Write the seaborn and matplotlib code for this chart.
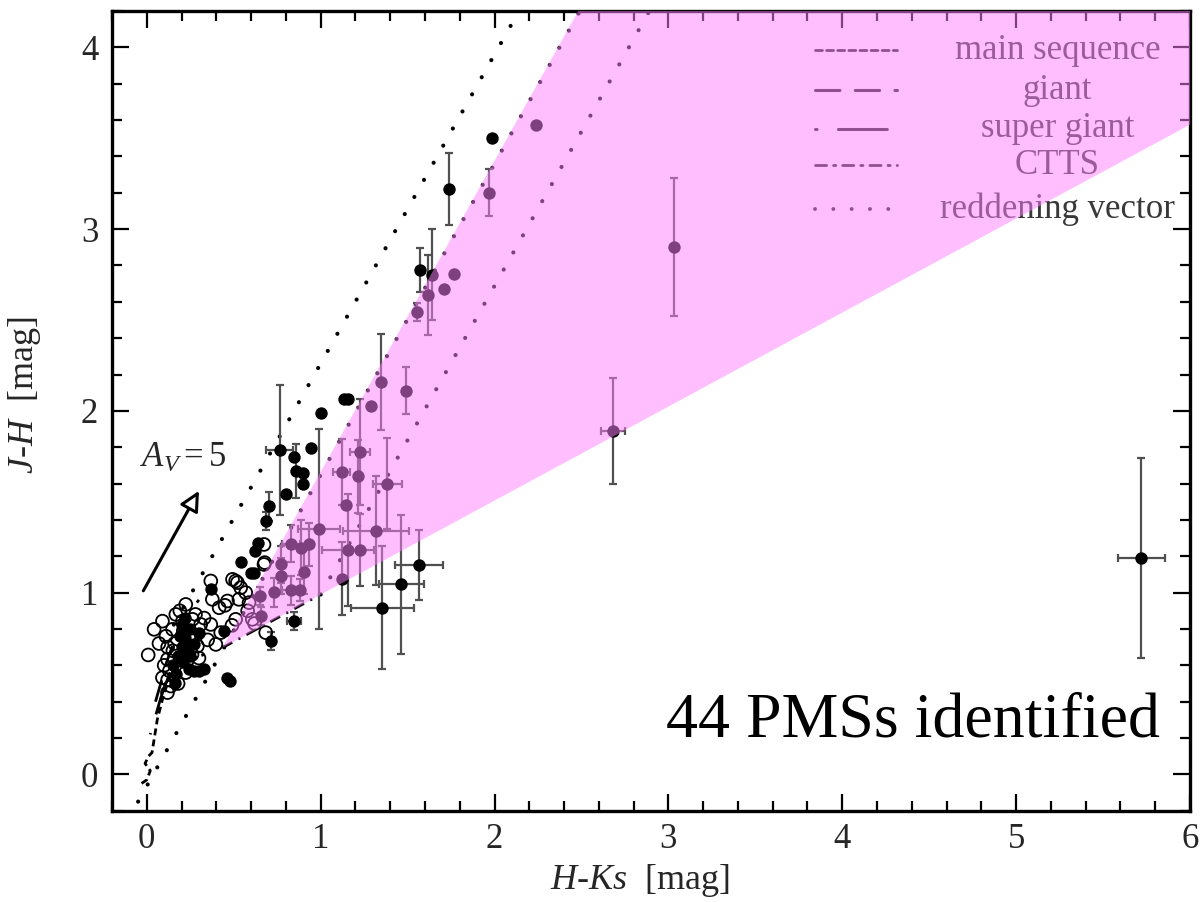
import numpy as np
import matplotlib
matplotlib.use("Agg")
import matplotlib.pyplot as plt
import seaborn as sns
from matplotlib.ticker import MultipleLocator

# ---------------- data ----------------
# loci (H-Ks, J-H)
ms_hk = [-0.03, 0.00, 0.02, -0.01, 0.01, 0.03, 0.06, 0.10, 0.14, 0.18, 0.22, 0.28, 0.33]
ms_jh = [-0.05, -0.03, 0.02, 0.06, 0.10, 0.12, 0.30, 0.45, 0.55, 0.60, 0.62, 0.64, 0.66]
giant_hk = [0.05, 0.08, 0.10, 0.13, 0.16, 0.20, 0.25, 0.30]
giant_jh = [0.40, 0.50, 0.58, 0.66, 0.74, 0.82, 0.90, 0.96]
sg_hk = [0.02, 0.05, 0.08, 0.11, 0.15]
sg_jh = [0.22, 0.32, 0.42, 0.50, 0.60]
ctts_hk = [0.435, 1.00]
ctts_jh = [0.697, 0.99]

# reddening vectors (start, end)
redd_a_hk = [0.10, 2.17]
redd_a_jh = [0.73, 4.25]
redd_b_hk = [-0.05, 2.52]
redd_b_jh = [-0.15, 4.25]
redd_c_hk = [1.00, 2.92]
redd_c_jh = [0.99, 4.25]

# CTTS-like region
region_hk = [0.435, 2.54, 6.3, 6.3]
region_jh = [0.697, 4.30, 4.30, 3.73]

# A_V = 5 arrow
av_hk = [-0.02, 0.30]
av_jh = [1.01, 1.56]

# sources with error bars
err_hk = [5.72, 3.03, 2.68, 1.97, 1.74, 1.57, 1.64, 1.62, 1.556, 1.345, 1.49, 1.226, 1.12,
          1.215, 1.383, 0.99, 1.32, 1.157, 1.226, 1.125, 1.565, 1.464, 1.354, 0.764, 0.856,
          0.703, 0.684, 0.713, 0.847, 0.83, 0.885, 0.933, 0.77, 0.904, 0.77, 0.651, 0.732,
          0.828, 0.881, 0.655]
err_jh = [1.19, 2.90, 1.89, 3.20, 3.22, 2.775, 2.75, 2.64, 2.544, 2.158, 2.11, 1.773, 1.663,
          1.64, 1.60, 1.35, 1.34, 1.234, 1.234, 1.077, 1.152, 1.045, 0.917, 1.785, 1.669,
          1.476, 1.394, 0.733, 0.843, 1.27, 1.247, 1.265, 1.155, 1.113, 1.09, 0.981, 1.003,
          1.014, 1.014, 0.871]
err_dhk = [0.135, 0.0, 0.07, 0.0, 0.0, 0.0, 0.0, 0.0, 0.0, 0.0, 0.0, 0.06, 0.05,
           0.0, 0.083, 0.12, 0.19, 0.15, 0.0, 0.0, 0.137, 0.13, 0.18, 0.077, 0.0,
           0.0, 0.0, 0.0, 0.04, 0.05, 0.0, 0.0, 0.0, 0.0, 0.0, 0.0, 0.0,
           0.05, 0.0, 0.0]
err_djh = [0.55, 0.38, 0.29, 0.13, 0.20, 0.12, 0.25, 0.22, 0.05, 0.265, 0.13, 0.29, 0.18,
           0.20, 0.25, 0.55, 0.30, 0.31, 0.20, 0.20, 0.19, 0.38, 0.34, 0.36, 0.15,
           0.08, 0.05, 0.05, 0.05, 0.10, 0.15, 0.12, 0.10, 0.12, 0.10, 0.05, 0.08,
           0.08, 0.06, 0.05]

# filled sources without error bars
dot_hk = [1.987, 2.24, 1.766, 1.709, 1.134, 1.16, 1.004, 0.943, 0.90, 0.90, 1.287, 0.847,
          0.799, 0.64, 0.62, 0.54, 0.60, 0.617, 0.368, 0.46, 0.48, 0.24, 0.27, 0.30, 0.33,
          0.445, 1.144, 0.20, 0.22, 0.25, 0.18, 0.23, 0.27, 0.20, 0.15, 0.17, 0.25, 0.30,
          0.22, 0.19, 0.24, 0.16, 0.21]
dot_jh = [3.503, 3.573, 2.751, 2.668, 2.067, 2.063, 1.99, 1.797, 1.66, 1.596, 2.026, 1.748,
          1.54, 1.271, 1.229, 1.168, 1.11, 1.11, 1.018, 0.53, 0.515, 0.58, 0.57, 0.57, 0.58,
          0.788, 1.48, 0.70, 0.75, 0.80, 0.65, 0.68, 0.72, 0.82, 0.60, 0.55, 0.65, 0.78,
          0.86, 0.76, 0.71, 0.50, 0.62]

# open circles
open_hk = [0.008, 0.042, 0.09, 0.167, 0.224, 0.205, 0.263, 0.31, 0.368, 0.148, 0.243, 0.291,
           0.397, 0.425, 0.511, 0.368, 0.377, 0.416, 0.464, 0.493, 0.521, 0.54, 0.569, 0.53,
           0.588, 0.678, 0.684, 0.09, 0.119, 0.138, 0.224, 0.119, 0.674, 0.674, 0.511, 0.607,
           0.13, 0.10, 0.12, 0.11, 0.16, 0.19, 0.21, 0.28, 0.33, 0.35, 0.26, 0.07, 0.15,
           0.23, 0.30, 0.45, 0.49, 0.58, 0.62, 0.18, 0.12]
open_jh = [0.657, 0.798, 0.843, 0.88, 0.935, 0.843, 0.853, 0.825, 0.825, 0.798, 0.761, 0.706,
           0.715, 0.78, 0.853, 1.064, 0.963, 0.917, 0.954, 1.073, 1.055, 1.027, 1.0, 0.963,
           0.945, 1.165, 0.78, 0.532, 0.633, 0.486, 0.56, 0.45, 1.265, 1.155, 1.064, 0.853,
           0.57, 0.60, 0.70, 0.76, 0.72, 0.90, 0.79, 0.88, 0.86, 0.74, 0.66, 0.72, 0.68,
           0.62, 0.64, 0.93, 0.82, 0.90, 0.83, 0.50, 0.52]

legend_labels = ["main sequence", "giant", "super giant", "CTTS", "reddening vector"]

# ---------------- style ----------------
sns.set_style("ticks")
plt.rcParams["font.family"] = ["Liberation Serif", "DejaVu Serif"]
plt.rcParams["mathtext.fontset"] = "custom"
plt.rcParams["mathtext.rm"] = "Liberation Serif"
plt.rcParams["mathtext.it"] = "Liberation Serif:italic"

fig = plt.figure(figsize=(12.02, 9.02), dpi=100)
ax = fig.add_axes([0.0932, 0.1012, 0.8968, 0.8866])

ls_ms = (0, (2.5, 1.5))
ls_giant = (0, (8, 5))
ls_sg = (0, (0.5, 7, 16, 7))
ls_ctts = (0, (4, 2.5, 0.8, 2.5))
ls_redd = (0, (0.01, 4.7))

# loci
sns.lineplot(x=ms_hk, y=ms_jh, sort=False, estimator=None, color="black", lw=2.0,
             linestyle=ls_ms, ax=ax, zorder=3)
sns.lineplot(x=giant_hk, y=giant_jh, sort=False, estimator=None, color="black", lw=2.0,
             linestyle=ls_giant, ax=ax, zorder=3)
sns.lineplot(x=sg_hk, y=sg_jh, sort=False, estimator=None, color="black", lw=2.0,
             linestyle=ls_sg, ax=ax, zorder=3)
sns.lineplot(x=ctts_hk, y=ctts_jh, sort=False, estimator=None, color="black", lw=2.0,
             linestyle=ls_ctts, ax=ax, zorder=3)
for rx, ry in [(redd_a_hk, redd_a_jh), (redd_b_hk, redd_b_jh), (redd_c_hk, redd_c_jh)]:
    l = ax.plot(rx, ry, color="black", lw=3.0, linestyle=ls_redd, zorder=3)[0]
    l.set_dash_capstyle("round")

# error bars
ax.errorbar(err_hk, err_jh, yerr=err_djh, fmt="none", ecolor="#505050",
            elinewidth=1.6, capsize=3.2, capthick=1.6, zorder=4)
xe = [i for i, v in enumerate(err_dhk) if v > 0]
ax.errorbar([err_hk[i] for i in xe], [err_jh[i] for i in xe],
            xerr=[err_dhk[i] for i in xe], fmt="none", ecolor="#505050",
            elinewidth=1.6, capsize=3.2, capthick=1.6, zorder=4)

# open circles
sns.scatterplot(x=open_hk, y=open_jh, s=85, marker="o", ax=ax, zorder=5)
oc = ax.collections[-1]
oc.set_facecolor("none")
oc.set_edgecolor("black")
oc.set_linewidth(1.3)

# filled points
sns.scatterplot(x=dot_hk, y=dot_jh, s=80, marker="o", color="black", linewidth=0, ax=ax, zorder=6)
sns.scatterplot(x=err_hk, y=err_jh, s=80, marker="o", color="black", linewidth=0, ax=ax, zorder=6)

# arrow A_V = 5
ax.annotate("", xy=(av_hk[1], av_jh[1]), xytext=(av_hk[0], av_jh[0]),
            arrowprops=dict(arrowstyle="-|>", lw=2.2, color="black", fc="white",
                            mutation_scale=30, shrinkA=0, shrinkB=0), zorder=7)
ax.text(-0.04, 1.69, r"$A_V = 5$", fontsize=25, va="baseline", ha="left", zorder=7)

# legend (drawn manually, gnuplot style)
legend_styles = [ls_ms, ls_giant, ls_sg, ls_ctts, ls_redd]
legend_lw = [2.0, 2.2, 2.2, 2.0, 2.8]
rows = [0.951, 0.901, 0.853, 0.807, 0.752]
for lab, lst, lw, yy in zip(legend_labels, legend_styles, legend_lw, rows):
    ln = ax.plot([0.652, 0.728], [yy, yy], transform=ax.transAxes, color="#222222",
                 lw=lw, linestyle=lst, zorder=8)[0]
    ln.set_dash_capstyle("round")
    ax.text(0.877, yy, lab, transform=ax.transAxes, fontsize=25, color="#383838",
            ha="center", va="center", zorder=8)

# pink region on top
ax.fill(region_hk, region_jh, color="#ff80ff", alpha=0.5, lw=0, zorder=20)

ax.text(0.972, 0.093, "44 PMSs identified", transform=ax.transAxes, fontsize=46,
        ha="right", va="baseline", color="black", zorder=21)

# axes
ax.set_xlim(-0.2, 6.0)
ax.set_ylim(-0.2, 4.2)
ax.xaxis.set_major_locator(MultipleLocator(1))
ax.xaxis.set_minor_locator(MultipleLocator(0.2))
ax.yaxis.set_major_locator(MultipleLocator(1))
ax.yaxis.set_minor_locator(MultipleLocator(0.2))
ax.tick_params(which="both", direction="in", top=True, right=True, width=1.6,
               color="black")
ax.tick_params(which="major", length=12, labelsize=25)
ax.tick_params(which="minor", length=7)
ax.tick_params(axis="x", pad=9)
ax.tick_params(axis="y", pad=10)
for sp in ax.spines.values():
    sp.set_linewidth(2.4)
    sp.set_color("black")

ax.set_xlabel(r"$\mathit{H}$-$\mathit{Ks}$  [mag]", fontsize=26)
ax.set_ylabel(r"$\mathit{J}$-$\mathit{H}$  [mag]", fontsize=26)
ax.xaxis.set_label_coords(0.49, -0.064)
ax.yaxis.set_label_coords(-0.064, 0.52)

fig.savefig("out.png", dpi=100)
